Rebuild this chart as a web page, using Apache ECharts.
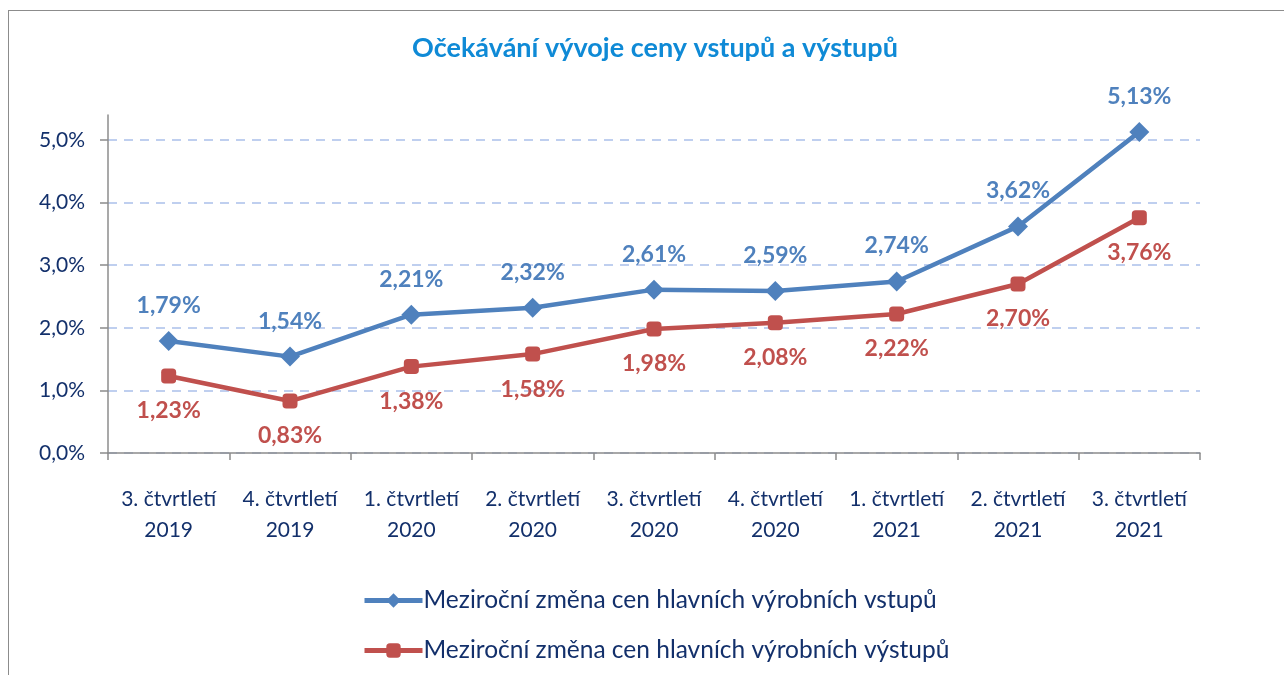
<!DOCTYPE html>
<html>
<head>
<meta charset="utf-8">
<script src="https://cdn.jsdelivr.net/npm/echarts@6/dist/echarts.min.js"></script>
<style>
    html, body { margin: 0; padding: 0; overflow: hidden; background: #fff; }
    #frame {
        position: absolute; left: 8px; top: 10px; width: 1400px; height: 800px;
        border-left: 1.5px solid #8c8c8c; border-top: 1.5px solid #8c8c8c;
    }
    #chart { position: absolute; left: 0; top: 0; width: 1284px; height: 675px; }
</style>
</head>
<body>
<div id="frame"></div>
<div id="chart"></div>
<script>
    // kvartaly
    const categories = [
        '3. čtvrtletí\n2019', '4. čtvrtletí\n2019', '1. čtvrtletí\n2020',
        '2. čtvrtletí\n2020', '3. čtvrtletí\n2020', '4. čtvrtletí\n2020',
        '1. čtvrtletí\n2021', '2. čtvrtletí\n2021', '3. čtvrtletí\n2021'
    ];
    const vstupy = [1.79, 1.54, 2.21, 2.32, 2.61, 2.59, 2.74, 3.62, 5.13];
    const vystupy = [1.23, 0.83, 1.38, 1.58, 1.98, 2.08, 2.22, 2.70, 3.76];
    const nameVstupy = 'Meziroční změna cen hlavních výrobních vstupů';
    const nameVystupy = 'Meziroční změna cen hlavních výrobních výstupů';

    const navy = '#13306b';
    const blue = '#4f81bd';
    const red = '#c0504d';
    const font = 'Lato, "Open Sans", sans-serif';

    let chart = echarts.init(document.getElementById('chart'));
    let option = {
        animation: false,
        title: {
            text: 'Očekávání vývoje ceny vstupů a výstupů',
            left: 650, top: 30, textAlign: 'center',
            textStyle: { color: '#0f8ad6', fontSize: 27, fontWeight: 'bold', fontFamily: font }
        },
        legend: {
            orient: 'vertical',
            left: 357, top: 583,
            itemWidth: 58, itemHeight: 18, itemGap: 25,
            lineStyle: { width: 5 },
            textStyle: { color: navy, fontSize: 24.5, fontFamily: font, padding: [0, 0, 0, -4] },
            data: [nameVstupy, nameVystupy]
        },
        grid: [
            { left: 108, right: 84, top: 140, bottom: 222 },
            { left: 108, right: 84, top: 115, bottom: 222 }
        ],
        xAxis: [{
            type: 'category',
            data: categories,
            boundaryGap: true,
            axisLine: { lineStyle: { color: '#8c8c8c', width: 1.5 } },
            axisTick: { show: true, length: 7, lineStyle: { color: '#8c8c8c', width: 1.5 } },
            axisLabel: {
                interval: 0, hideOverlap: false,
                color: navy, fontSize: 21, fontFamily: font, lineHeight: 31, margin: 31
            }
        }, {
            type: 'category', gridIndex: 1, show: false, data: categories
        }],
        yAxis: [{
            type: 'value',
            min: 0, max: 5, interval: 1,
            axisLine: { show: false },
            axisTick: { show: true, length: 8, lineStyle: { color: '#8c8c8c', width: 1.5 } },
            axisLabel: {
                color: navy, fontSize: 21, fontFamily: font, margin: 23,
                formatter: v => v.toFixed(1).replace('.', ',') + '%'
            },
            splitLine: { lineStyle: { color: '#aac0ea', width: 1.5, type: [9, 7] } }
        }, {
            type: 'value', gridIndex: 1, min: 0, max: 5.4,
            axisLine: { show: true, lineStyle: { color: '#8c8c8c', width: 1.5 } },
            axisTick: { show: false }, axisLabel: { show: false }, splitLine: { show: false }
        }],
        series: [{
            name: nameVstupy,
            type: 'line',
            xAxisIndex: 1, yAxisIndex: 1,
            data: vstupy,
            symbol: 'diamond', symbolSize: 20,
            lineStyle: { color: blue, width: 4.5 },
            itemStyle: { color: blue },
            label: {
                show: true, position: 'top', distance: 14,
                color: blue, fontSize: 23, fontWeight: 'bold', fontFamily: font,
                formatter: p => p.value.toFixed(2).replace('.', ',') + '%'
            },
            z: 3
        }, {
            name: nameVystupy,
            type: 'line',
            xAxisIndex: 1, yAxisIndex: 1,
            data: vystupy,
            symbol: 'roundRect', symbolSize: 15,
            lineStyle: { color: red, width: 4.5 },
            itemStyle: { color: red },
            label: {
                show: true, position: 'bottom', distance: 16,
                color: red, fontSize: 23, fontWeight: 'bold', fontFamily: font,
                formatter: p => p.value.toFixed(2).replace('.', ',') + '%'
            },
            z: 2
        }]
    };
    chart.setOption(option);
</script>
</body>
</html>
